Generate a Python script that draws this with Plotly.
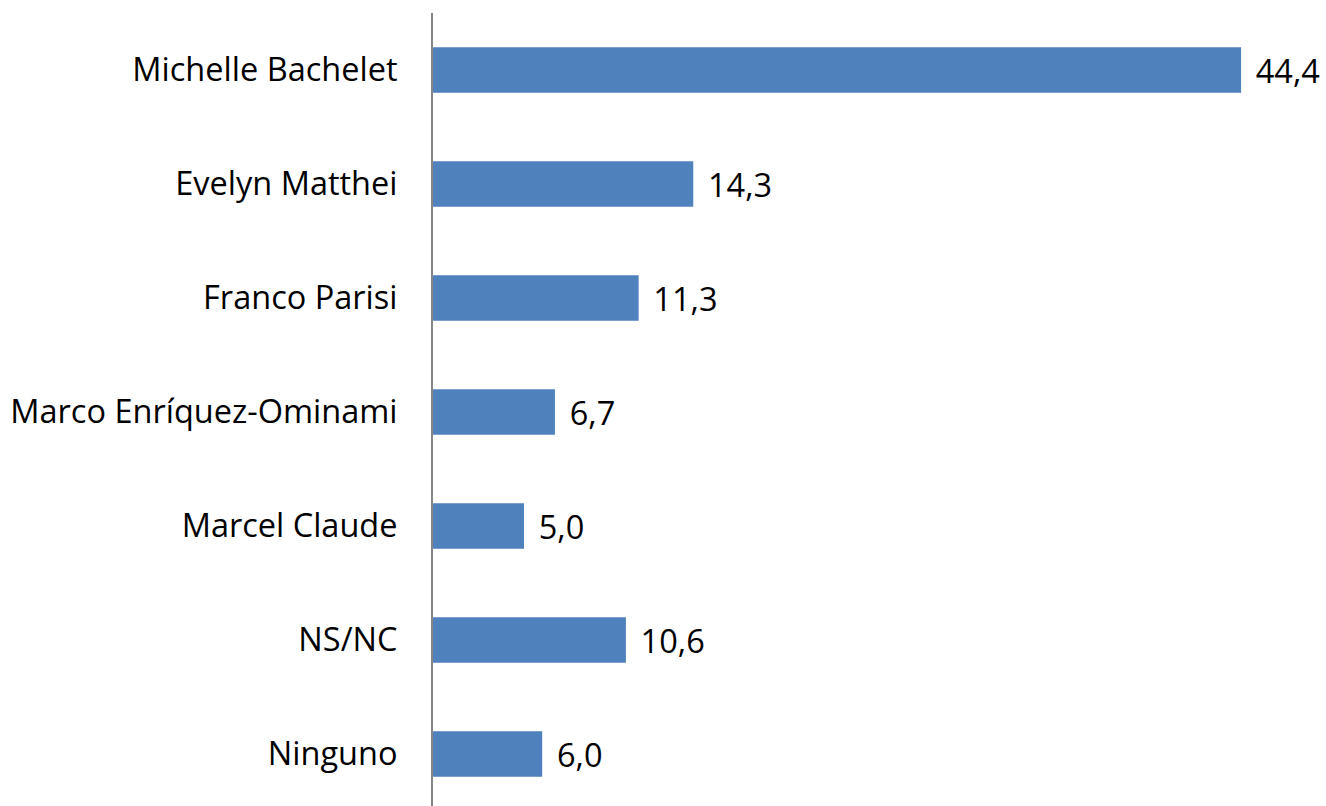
import plotly.graph_objects as go

categories = ["Michelle Bachelet", "Evelyn Matthei", "Franco Parisi",
              "Marco Enríquez-Ominami", "Marcel Claude", "NS/NC", "Ninguno"]
values = [44.4, 14.3, 11.3, 6.7, 5.0, 10.6, 6.0]
labels = [" \u200a" + f"{v:.1f}".replace(".", ",") for v in values]

FONT = "Open Sans, Noto Sans, sans-serif"
FS = 32.5

fig = go.Figure(go.Bar(
    y=categories, x=values, orientation="h",
    marker=dict(color="#4F81BD", line=dict(width=0)),
    width=0.4,
    text=labels, textposition="outside", cliponaxis=False,
    textfont=dict(size=FS, color="#000000", family=FONT),
    hoverinfo="skip",
))

fig.update_layout(
    width=1326, height=806,
    margin=dict(l=433, r=0, t=13, b=0, autoexpand=False),
    paper_bgcolor="white", plot_bgcolor="white",
    showlegend=False,
    font=dict(family=FONT, size=FS, color="#000000"),
    xaxis=dict(range=[0, 893 / 18.2], visible=False, showgrid=False,
               zeroline=False, automargin=False),
    yaxis=dict(
        categoryorder="array", categoryarray=categories,
        range=[6.456, -0.5],
        showline=True, linecolor="#868686", linewidth=2,
        ticks="outside", ticklen=27, tickcolor="rgba(0,0,0,0)",
        showgrid=False, zeroline=False, automargin=False,
        tickfont=dict(size=FS, color="#000000"),
    ),
)

fig.write_html("out.html", config={"displayModeBar": False},
               post_script="document.body.style.margin='0px';document.body.style.overflow='hidden';")
